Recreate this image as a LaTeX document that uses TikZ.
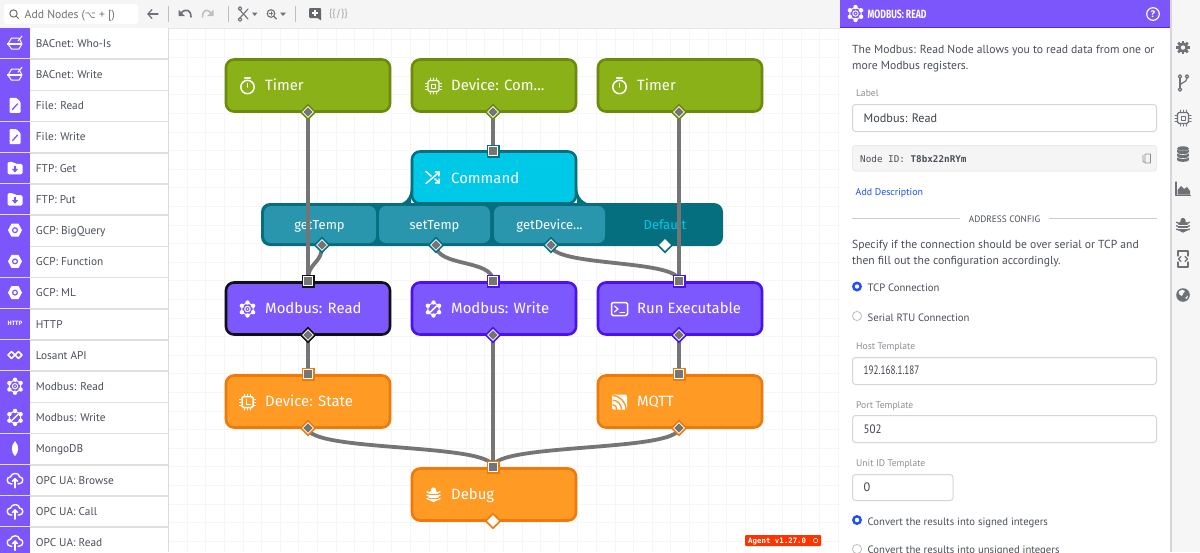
\documentclass[tikz,border=0pt]{standalone}
\usepackage{fontspec}
\usepackage{graphicx}
\setmainfont{Fira Sans}
\newfontfamily\monof{DejaVu Sans Mono}
\newfontfamily\symf{DejaVu Sans}
\newfontfamily\uif{PT Sans}
\usetikzlibrary{shapes.geometric,arrows.meta}
\pgfdeclarelayer{wirelayer}\pgfdeclarelayer{portlayer}\pgfdeclarelayer{bg}
\pgfsetlayers{bg,main,wirelayer,portlayer}
\definecolor{grn}{HTML}{8BB118}\definecolor{grnd}{HTML}{6C8A0E}
\definecolor{cyn}{HTML}{00C9E7}\definecolor{teal}{HTML}{056F80}\definecolor{tealb}{HTML}{2A96AD}
\definecolor{pur}{HTML}{7D58FF}\definecolor{purd}{HTML}{4A12F2}\definecolor{blk}{HTML}{101018}
\definecolor{org}{HTML}{FF9A24}\definecolor{orgd}{HTML}{EE7A0C}
\definecolor{wire}{HTML}{757575}\definecolor{gridc}{HTML}{F6F6F6}
\definecolor{sidep}{HTML}{7C55FB}\definecolor{txt}{HTML}{4A4F5A}\definecolor{rail}{HTML}{6E7278}
\definecolor{lab}{HTML}{8A8E94}\definecolor{fieldb}{HTML}{D4D6D8}\definecolor{linkb}{HTML}{1F4FF5}
\colorlet{ic}{white}\colorlet{icbg}{sidep}
\tikzset{x=1pt,y=-1pt,
 flow/.style={rectangle,rounded corners=8pt,line width=2.6pt,minimum width=164pt,minimum height=52pt,inner sep=0pt},
 flowtext/.style={anchor=base west,text=white,font=\fontsize{14.9}{16}\selectfont,inner sep=0pt},
 wireline/.style={draw=wire,line width=3.8pt},
 inport/.style={rectangle,fill=#1,minimum size=13pt,inner sep=0pt},
 outport/.style={diamond,aspect=1,fill=#1,minimum size=17pt,inner sep=0pt},
 hole/.style={rectangle,fill=white,minimum size=9.4pt,inner sep=0pt},
 dhole/.style={diamond,aspect=1,fill=white,minimum size=12pt,inner sep=0pt},
 core/.style={rectangle,fill=wire,minimum size=7.4pt,inner sep=0pt},
 dcore/.style={diamond,aspect=1,fill=wire,minimum size=9.4pt,inner sep=0pt},
 branchbtn/.style={rectangle,rounded corners=7pt,fill=tealb,minimum height=37pt,inner sep=0pt},
 branchtext/.style={anchor=base,text=white,font=\fontsize{13}{14}\selectfont,inner sep=0pt},
 rowtext/.style={anchor=base west,text=txt,font=\uif\fontsize{11.3}{12}\selectfont,inner sep=0pt},
 ptext/.style={anchor=base west,text=txt,font=\uif\fontsize{11.65}{12}\selectfont,inner sep=0pt},
 rtext/.style={anchor=base west,text=txt,font=\uif\fontsize{10.7}{12}\selectfont,inner sep=0pt},
 ltext/.style={anchor=base west,text=lab,font=\uif\fontsize{9.6}{12}\selectfont,inner sep=0pt},
 vtext/.style={anchor=base west,text=txt!85!black,font=\uif\fontsize{12.2}{13}\selectfont,inner sep=0pt},
 field/.style={draw=fieldb,line width=1pt,fill=white,rounded corners=3pt},
 il/.style={draw=ic,line width=1.5pt,line cap=round,line join=round},
 ilt/.style={draw=ic,line width=1pt,line cap=round,line join=round},
 tb/.style={draw=rail,line width=1.4pt,line cap=round,line join=round},
}
% ---- icons
\newcommand{\icTimer}[1]{\begin{scope}[shift={(#1)}]\draw[il](0,1) circle(6.7);\draw[il](-2.8,-8)--(2.8,-8);\draw[il](0,1)--(0,-2.6);\end{scope}}
\newcommand{\icChip}[1]{\begin{scope}[shift={(#1)}]\draw[ilt,line width=1.3pt,rounded corners=1.5pt](-5.5,-5.5) rectangle(5.5,5.5);\draw[ilt](-2,-2) rectangle(2,2);
 \foreach \p in {-3,0,3}{\draw[ilt](\p,-8)--(\p,-6.5);\draw[ilt](\p,6.5)--(\p,8);\draw[ilt](-8,\p)--(-6.5,\p);\draw[ilt](6.5,\p)--(8,\p);}\end{scope}}
\newcommand{\icState}[1]{\begin{scope}[shift={(#1)}]\draw[il,rounded corners=1.5pt](-5.5,-5.5) rectangle(5.5,5.5);\draw[ilt](-1.5,-3)--(-1.5,2)--(3,2);
 \foreach \p in {-3,0,3}{\draw[ilt](\p,-8)--(\p,-6.5);\draw[ilt](\p,6.5)--(\p,8);\draw[ilt](-8,\p)--(-6.5,\p);\draw[ilt](6.5,\p)--(8,\p);}\end{scope}}
\newcommand{\icShuffle}[1]{\begin{scope}[shift={(#1)}]\draw[il,-{Straight Barb[length=3pt,width=6pt]}](-7,6)--(7,-6);\draw[il](-7,-6)--(-2,-1.5);\draw[il,-{Straight Barb[length=3pt,width=6pt]}](2,1.5)--(7,6);\end{scope}}
\newcommand{\icRing}{\draw[ilt](30:6.5)--(90:6.5)--(150:6.5)--(210:6.5)--(270:6.5)--(330:6.5)--cycle;
 \foreach \a in {30,90,...,330}{\fill[ic](\a:6.5) circle(2.2);}}
\newcommand{\icModR}[1]{\begin{scope}[shift={(#1)}]\icRing\draw[ilt](0,0) circle(2.7);\fill[ic](0,0) circle(.9);\end{scope}}
\newcommand{\icModW}[1]{\begin{scope}[shift={(#1)}]\icRing\draw[il](-3.2,3.2)--(3.2,-3.2);\end{scope}}
\newcommand{\icBug}[1]{\begin{scope}[shift={(#1)}]\fill[ic](0,1) ellipse(5 and 6.2);\fill[ic](0,-5) circle(2.6);
 \foreach \p in {-2.2,1.2,4.6}{\draw[ilt,line width=1.3pt](-4,\p)--(-6.6,\p-1);\draw[ilt,line width=1.3pt](4,\p)--(6.6,\p-1);}\fill[icbg](-5,-.9) rectangle(5,-.3);\fill[icbg](-5,2.7) rectangle(5,3.3);\end{scope}}
\newcommand{\icTerm}[1]{\begin{scope}[shift={(#1)}]\draw[il,rounded corners=1.5pt](-8,-6.5) rectangle(8,6.5);\draw[ilt,line width=1.2pt](-5,-3)--(-1.5,0)--(-5,3);\draw[ilt,line width=1.2pt](.5,3.2)--(5,3.2);\end{scope}}
\newcommand{\icRss}[1]{\begin{scope}[shift={(#1)}]\fill[ic,rounded corners=2pt](-7.5,-7.5) rectangle(7.5,7.5);
 \begin{scope}\clip(-7,-7) rectangle(7,7);\foreach \r in {5,9.5,14}{\draw[org,line width=1.4pt](-7.5,7.5-\r)..controls(-7.5+.55*\r,7.5-\r)and(-7.5+\r,7.5-.55*\r)..(-7.5+\r,7.5);}\end{scope}\end{scope}}
\newcommand{\icBac}[1]{\begin{scope}[shift={(#1)}]\draw[ilt,fill=icbg](-7,1)--(-3.5,-5)--(4,-5)--(7,1)--(4,6)--(-3.5,6)--cycle;\fill[ic](-8,-.3) rectangle(6,2.2);\draw[ilt](3,-2)--(7,-7);\end{scope}}
\newcommand{\icFile}[1]{\begin{scope}[shift={(#1)}]\fill[ic,rounded corners=1pt](-5.5,-7.5)--(1.5,-7.5)--(5.5,-3.5)--(5.5,7.5)--(-5.5,7.5)--cycle;\draw[icbg,line width=1.3pt,line cap=round](-2.5,4)--(2.5,-1.5);\end{scope}}
\newcommand{\icFolder}[1]{\begin{scope}[shift={(#1)}]\fill[ic,rounded corners=1.5pt](-7.5,-6)--(-2,-6)--(0,-4)--(7.5,-4)--(7.5,6.5)--(-7.5,6.5)--cycle;\draw[icbg,line width=1.6pt](0,-2)--(0,3);\fill[icbg](-3.2,1)--(3.2,1)--(0,4.7)--cycle;\end{scope}}
\newcommand{\icGcp}[1]{\begin{scope}[shift={(#1)}]\fill[ic](-7,0)--(-3.5,-6.5)--(3.5,-6.5)--(7,0)--(3.5,6.5)--(-3.5,6.5)--cycle;\draw[icbg,line width=1.2pt](0,0) circle(2.4);\end{scope}}
\newcommand{\icHttp}[1]{\node[text=white,font=\bfseries\fontsize{6.2}{7}\selectfont,inner sep=0pt] at (#1) {HTTP};}
\newcommand{\icLos}[1]{\begin{scope}[shift={(#1)}]\draw[il](-3.5,-3.5)--(0,0)--(-3.5,3.5)--(-7,0)--cycle;\draw[il](3.5,-3.5)--(0,0)--(3.5,3.5)--(7,0)--cycle;\end{scope}}
\newcommand{\icMongo}[1]{\begin{scope}[shift={(#1)}]\fill[ic](0,-7.5).. controls (4.5,-3) and (4,4) .. (0,7.5).. controls (-4,4) and (-4.5,-3) .. (0,-7.5);\end{scope}}
\newcommand{\icCloud}[1]{\begin{scope}[shift={(#1)}]\draw[il,line width=1.4pt](-3,4)--(-4,4).. controls (-9,4) and (-9,-3) .. (-4.5,-3).. controls (-3.5,-7.5) and (4.5,-7.5) .. (4.5,-3).. controls (9,-3) and (9,4) .. (4,4)--(3,4);\draw[il](0,-1)--(0,8);\draw[il](-2.5,1.5)--(0,-1)--(2.5,1.5);\end{scope}}
\newcommand{\icGear}[1]{\begin{scope}[shift={(#1)}]\foreach \a in {0,45,...,315}{\draw[ic,line width=2.6pt](\a:4)--(\a:6.8);}\fill[ic](0,0) circle(5.2);\fill[icbg](0,0) circle(2.2);\end{scope}}
\newcommand{\icBranch}[1]{\begin{scope}[shift={(#1)}]\draw[ilt,line width=1.2pt](-3,-6)--(-3,6);\draw[ilt,line width=1.2pt](-3,3)..controls(-3,-1)and(4,0)..(4,-5);\draw[ilt,line width=1.2pt,fill=icbg](-3,-6.5)circle(1.8);\draw[ilt,line width=1.2pt,fill=icbg](-3,6.5)circle(1.8);\draw[ilt,line width=1.2pt,fill=icbg](4,-6.5)circle(1.8);\end{scope}}
\newcommand{\icDb}[1]{\begin{scope}[shift={(#1)}]\foreach \p in {5,1,-3}{\fill[ic](-6,\p-2) rectangle(6,\p+1);\fill[ic](0,\p+1) ellipse(6 and 1.8);\draw[icbg,line width=.6pt](-6,\p-2)..controls(-5,\p)and(5,\p)..(6,\p-2);}\fill[ic](0,-5.5) ellipse(6 and 2.2);\end{scope}}
\newcommand{\icChart}[1]{\begin{scope}[shift={(#1)}]\draw[ilt,line width=1.1pt](-7,-7)--(-7,6.5)--(7.5,6.5);\fill[ic](-5.5,5.5)--(-5.5,1)--(-2,-3)--(1,0)--(4,-2)--(7,2)--(7,5.5)--cycle;\end{scope}}
\newcommand{\icCode}[1]{\begin{scope}[shift={(#1)}]\draw[ilt,line width=1.2pt](-5,-3)--(-5,-8)--(5,-8)--(5,-3);\draw[ilt,line width=1.2pt](-5,3)--(-5,8)--(5,8)--(5,3);\draw[ilt,line width=1.2pt](-2,-2.5)--(-4.5,0)--(-2,2.5);\draw[ilt,line width=1.2pt](2,-2.5)--(4.5,0)--(2,2.5);\end{scope}}
\newcommand{\icGlobe}[1]{\begin{scope}[shift={(#1)}]\fill[ic](0,0) circle(6.8);\fill[icbg](-4.5,-3)..controls(-2,-6)and(1,-5.5)..(2,-4)..controls(1,-2)and(-1,-1)..(-1,1)..controls(-3,1)and(-4,-1)..(-4.5,-3);\fill[icbg](2,3)--(5,.5)--(4,4)--cycle;\end{scope}}
% ---- flow node: name, x-left, y-top, fill, border, icon, text
\newcommand{\flowbox}[7]{%
 \colorlet{icbg}{#4}%
 \node[flow,fill=#4,draw=#5] (#1) at (#2+83,#3+27) {};
 \csname ic#6\endcsname{#2+22.5,#3+27.5};
 \node[flowtext] (#1text) at (#2+40,#3+32) {#7};}
\newcommand{\inp}[4]{\node[inport=#4] (#1) at (#2,#3) {};\node[hole] at (#1) {};\node[core] at (#1) {};}
\newcommand{\outp}[4]{\node[outport=#4] (#1) at (#2,#3) {};\node[dhole] at (#1) {};\node[dcore] at (#1) {};}
\newcommand{\outpfree}[4]{\node[outport=#4] (#1) at (#2,#3) {};\node[dhole] at (#1) {};}
\begin{document}
\begin{tikzpicture}
\useasboundingbox (0,0) rectangle (1200,552);
\fill[white] (0,0) rectangle (1200,552);
% canvas grid
\foreach \g in {0,...,36}{\draw[gridc,line width=1pt] (168.6+18.6*\g,28)--(168.6+18.6*\g,552);}
\foreach \g in {0,...,28}{\draw[gridc,line width=1pt] (168,39+18.6*\g)--(840,39+18.6*\g);}
% toolbar
\fill[black!4] (0,0) rectangle (840,28);
\draw[black!9,line width=1pt] (0,28)--(840,28);
\node[draw=none,fill=white,rounded corners=3pt,minimum width=134pt,minimum height=20pt,inner sep=0pt] (search) at (71,14) {};
\draw[tb,line width=1pt,draw=rail] (13.5,13.5) circle(3.7);\draw[tb,line width=1pt](16.3,16.3)--(18.5,18.5);
\node[anchor=base west,text=rail,inner sep=0pt,font=\uif\fontsize{11.7}{12}\selectfont] (searchtext) at (24.5,18.5) {Add Nodes ({\symf\fontsize{9.5}{10}\selectfont ⌥} + [)};
\draw[tb,line width=1.2pt](148,14)--(158,14);\draw[tb,line width=1.2pt](152,9.5)--(148,14)--(152,18.5);
\foreach \g in {168.5,228.5,295}{\draw[black!25,line width=1pt](\g,6)--(\g,22);}
\draw[tb,line width=1.6pt](181,13)..controls(186,8)and(191,10)..(191,17);\fill[rail](178.5,9.5)--(178.5,16)--(185,16)--cycle;
\draw[black!25,line width=1.6pt,line cap=round](211,13)..controls(206,8)and(203,10)..(202.5,17);\fill[black!25](213.5,9.5)--(213.5,16)--(207,16)--cycle;
\draw[tb,line width=1.1pt](239,9)--(248,19);\draw[tb,line width=1.1pt](248,9)--(239,19);\draw[tb,line width=1.1pt](240,8.5)circle(1.8);\draw[tb,line width=1.1pt](240,19.5)circle(1.8);
\fill[rail](252,12.5)--(257.5,12.5)--(254.7,16)--cycle;
\draw[tb,line width=1.1pt](271,13.5)circle(3.8);\draw[tb,line width=1.3pt](274,16.5)--(276.5,19);\draw[tb,line width=.8pt](269.3,13.5)--(272.7,13.5);\draw[tb,line width=.8pt](271,11.8)--(271,15.2);
\fill[rail](280,12.5)--(286,12.5)--(283,16)--cycle;
\fill[rail!90!black,rounded corners=1pt](309,8)--(321,8)--(321,18)--(321,21)--(318,18)--(309,18)--cycle;\draw[white,line width=1.1pt](312,13)--(318,13);\draw[white,line width=1.1pt](315,10)--(315,16);
\node[text=black!35,inner sep=0pt,font=\fontsize{10}{10}\selectfont] (vars) at (338.5,14) {\{\{/\}\}};
% sidebar
\fill[white] (0,28) rectangle (168,552);
\draw[black!14,line width=1pt](168.5,28)--(168.5,552);
\foreach \i/\t/\k in {0/BACnet: Who-Is/Bac,1/BACnet: Write/Bac,2/File: Read/File,3/File: Write/File,4/FTP: Get/Folder,5/FTP: Put/Folder,6/GCP: BigQuery/Gcp,7/GCP: Function/Gcp,8/GCP: ML/Gcp,9/HTTP/Http,10/Losant API/Los,11/Modbus: Read/ModR,12/Modbus: Write/ModW,13/MongoDB/Mongo,14/OPC UA: Browse/Cloud,15/OPC UA: Call/Cloud,16/OPC UA: Read/Cloud}{
 \fill[sidep] (0,28+31.2*\i) rectangle (30,58.5+31.2*\i);
 \fill[black!12] (0,58.4+31.2*\i) rectangle (168,59.9+31.2*\i);
 \csname ic\k\endcsname{15,43+31.2*\i};
 \node[rowtext] (row\i) at (35.7,47.3+31.2*\i) {\t};
}
% branch tray
\node[rectangle,rounded corners=9pt,fill=teal,minimum width=462pt,minimum height=43pt,inner sep=0pt] (tray) at (492,224.5) {};
\fill[teal](396,204)..controls(405,204)and(411,198)..(411,186)--(411,204)--cycle;
\fill[teal](593,204)..controls(584,204)and(577,198)..(577,186)--(577,204)--cycle;
\node[rectangle,rounded corners=8pt,fill=cyn,draw=teal,line width=2.6pt,minimum width=164pt,minimum height=52pt,inner sep=0pt] (command) at (494,177.5) {};
\icShuffle{433,177.5}
\node[flowtext] (commandtext) at (451,183) {Command};
\node[branchbtn,minimum width=112pt] (b1) at (320,224.5) {};
\node[branchbtn,minimum width=111pt] (b2) at (434.5,224.5) {};
\node[branchbtn,minimum width=111pt] (b3) at (549.5,224.5) {};
\node[branchtext] (b1t) at (319.5,229) {getTemp};
\node[branchtext] (b2t) at (434.5,229) {setTemp};
\node[branchtext] (b3t) at (549.5,229) {getDevice...};
\node[branchtext,text=cyn] (b4t) at (665,229) {Default};
% flow nodes
\flowbox{t1}{225}{58.5}{grn}{grnd}{Timer}{Timer}
\flowbox{dc}{411}{58.5}{grn}{grnd}{Chip}{Device: Com...}
\flowbox{t2}{597}{58.5}{grn}{grnd}{Timer}{Timer}
\flowbox{mr}{225}{281.5}{pur}{blk}{ModR}{Modbus: Read}
\flowbox{mw}{411}{281.5}{pur}{purd}{ModW}{Modbus: Write}
\flowbox{rx}{597}{281.5}{pur}{purd}{Term}{Run Executable}
\flowbox{ds}{225}{374.5}{org}{orgd}{State}{Device: State}
\flowbox{mq}{597}{374.5}{org}{orgd}{Rss}{MQTT}
\flowbox{db}{411}{467.5}{org}{orgd}{Bug}{Debug}
% ports
\begin{pgfonlayer}{portlayer}
\outp{ot1}{308}{112}{grnd}\outp{odc}{493}{112}{grnd}\outp{ot2}{679}{112}{grnd}
\inp{icm}{493}{151}{teal}
\outp{ob1}{322}{245}{teal}\outp{ob2}{436}{245}{teal}\outp{ob3}{551}{245}{teal}\outpfree{ob4}{665}{245}{teal}
\inp{imr}{308}{281}{blk}\inp{imw}{493}{281}{purd}\inp{irx}{679}{281}{purd}
\outp{omr}{308}{335}{blk}\outp{omw}{493}{335}{purd}\outp{orx}{679}{335}{purd}
\inp{ids}{308}{374}{orgd}\inp{imq}{679}{374}{orgd}\inp{idb}{493}{467}{orgd}
\outp{ods}{308}{428}{orgd}\outp{omq}{679}{428}{orgd}\outpfree{odb}{493}{521}{orgd}
\end{pgfonlayer}
% wires
\begin{pgfonlayer}{wirelayer}
\draw[wireline](ot1.center)--(imr.center);
\draw[wireline](odc.center)--(icm.center);
\draw[wireline](ot2.center)--(irx.center);
\draw[wireline](ob1.center)..controls +(0,20) and +(0,-20)..(imr.center);
\draw[wireline](ob2.center)..controls +(0,22) and +(0,-22)..(imw.center);
\draw[wireline](ob3.center)..controls +(0,22) and +(0,-22)..(irx.center);
\draw[wireline](omr.center)--(ids.center);
\draw[wireline](omw.center)--(idb.center);
\draw[wireline](orx.center)--(imq.center);
\draw[wireline](ods.center)..controls +(0,24) and +(0,-24)..(idb.center);
\draw[wireline](omq.center)..controls +(0,24) and +(0,-24)..(idb.center);
\end{pgfonlayer}
% agent badge
\node[rectangle,fill=orange!40!red,minimum width=76pt,minimum height=11pt,inner sep=0pt,rounded corners=1pt] (agent) at (783,540.5) {};
\node[anchor=base west,text=white,inner sep=0pt,font=\monof\bfseries\fontsize{7.4}{8}\selectfont] (agenttext) at (748,543.3) {Agent v1.27.0};
\draw[white,line width=.5pt](815.5,540.5)circle(2.2);
% right panel
\fill[white] (840,0) rectangle (1170,552);
\fill[sidep] (840,0) rectangle (1170,27);
\fill[purd!70!sidep] (840,27) rectangle (1170,28.2);
\colorlet{ic}{white}\colorlet{icbg}{sidep}
\icModR{855.5,13.5}
\node[anchor=base west,text=white,inner sep=0pt,font=\bfseries\fontsize{12}{12}\selectfont] (htitle) at (867.5,18) {\scalebox{.72}[1]{MODBUS: READ}};
\draw[white,line width=1.2pt](1153,14)circle(6.3);
\node[text=white,inner sep=0pt,font=\bfseries\fontsize{9.5}{9}\selectfont] (hq) at (1153,14) {?};
\node[ptext] (p1) at (852,53) {The Modbus: Read Node allows you to read data from one or};
\node[ptext] (p2) at (852,69) {more Modbus registers.};
\node[ltext] (lab1) at (856,96) {Label};
\draw[field] (852.5,104.5) rectangle (1156.5,131.5);
\node[vtext] (v1) at (863.5,122) {Modbus: Read};
\draw[field,fill=black!4,draw=black!8] (852.5,145.5) rectangle (1156.5,171);
\node[anchor=base west,text=txt,inner sep=0pt,font=\monof\fontsize{9.3}{10}\selectfont] (nid) at (860,162) {Node ID: \textbf{T8bx22nRYm}};
\draw[lab,line width=.8pt,rounded corners=.5pt](1143,155)--(1143,162)--(1150,162);\draw[lab,line width=.8pt,fill=black!4,rounded corners=.5pt](1145,154)rectangle(1150.5,163);
\node[anchor=base west,text=linkb,inner sep=0pt,font=\uif\fontsize{9.9}{11}\selectfont] (addd) at (855.5,195) {Add Description};
\node[anchor=base,text=txt,inner sep=0pt,font=\uif\fontsize{9.3}{10}\selectfont] (addr) at (1004.5,222) {ADDRESS CONFIG};
\draw[black!20,line width=1pt](852,218.5)--(960,218.5);\draw[black!20,line width=1pt](1049,218.5)--(1157,218.5);
\node[ptext] (p3) at (852,248) {Specify if the connection should be over serial or TCP and};
\node[ptext] (p4) at (852,264) {then fill out the configuration accordingly.};
\newcommand{\radio}[2]{\ifnum#1=1 \fill[linkb](857,#2)circle(5);\fill[white](857,#2)circle(2.2);\else\draw[black!25,line width=.8pt,fill=white](857,#2)circle(4.6);\fi}
\radio{1}{286.5}\node[rtext] (r1) at (867.5,291) {TCP Connection};
\radio{0}{316}\node[rtext] (r2) at (867.5,321) {Serial RTU Connection};
\node[ltext] (lab2) at (856,349) {Host Template};
\draw[field] (852.5,357.5) rectangle (1156.5,384.5);
\node[vtext] (v2) at (863.5,374) {\scalebox{.75}[1]{192.168.1.187}};
\node[ltext] (lab3) at (856,408) {Port Template};
\draw[field] (852.5,415.5) rectangle (1156.5,442.5);
\node[vtext] (v3) at (863.5,433) {\scalebox{.9}[1]{502}};
\node[ltext] (lab4) at (856,466) {Unit ID Template};
\draw[field] (852.5,474.5) rectangle (953,500.5);
\node[vtext] (v4) at (863.5,491) {0};
\radio{1}{520}\node[rtext] (r3) at (867.5,525) {Convert the results into signed integers};
\radio{0}{549}\node[rtext] (r4) at (867.5,553) {Convert the results into unsigned integers};
% right rail
\fill[black!3.5] (1170,0) rectangle (1200,552);
\fill[black!16] (1170,0) rectangle (1171.5,552);
\colorlet{ic}{rail}\colorlet{icbg}{black!3.5}
\icGear{1183,47.5}\icBranch{1183,83}\icChip{1183,118}\icDb{1183,154}\icChart{1183,189}\icBug{1183,225.5}\icCode{1183,259}\icGlobe{1183,295}
\end{tikzpicture}
\end{document}
